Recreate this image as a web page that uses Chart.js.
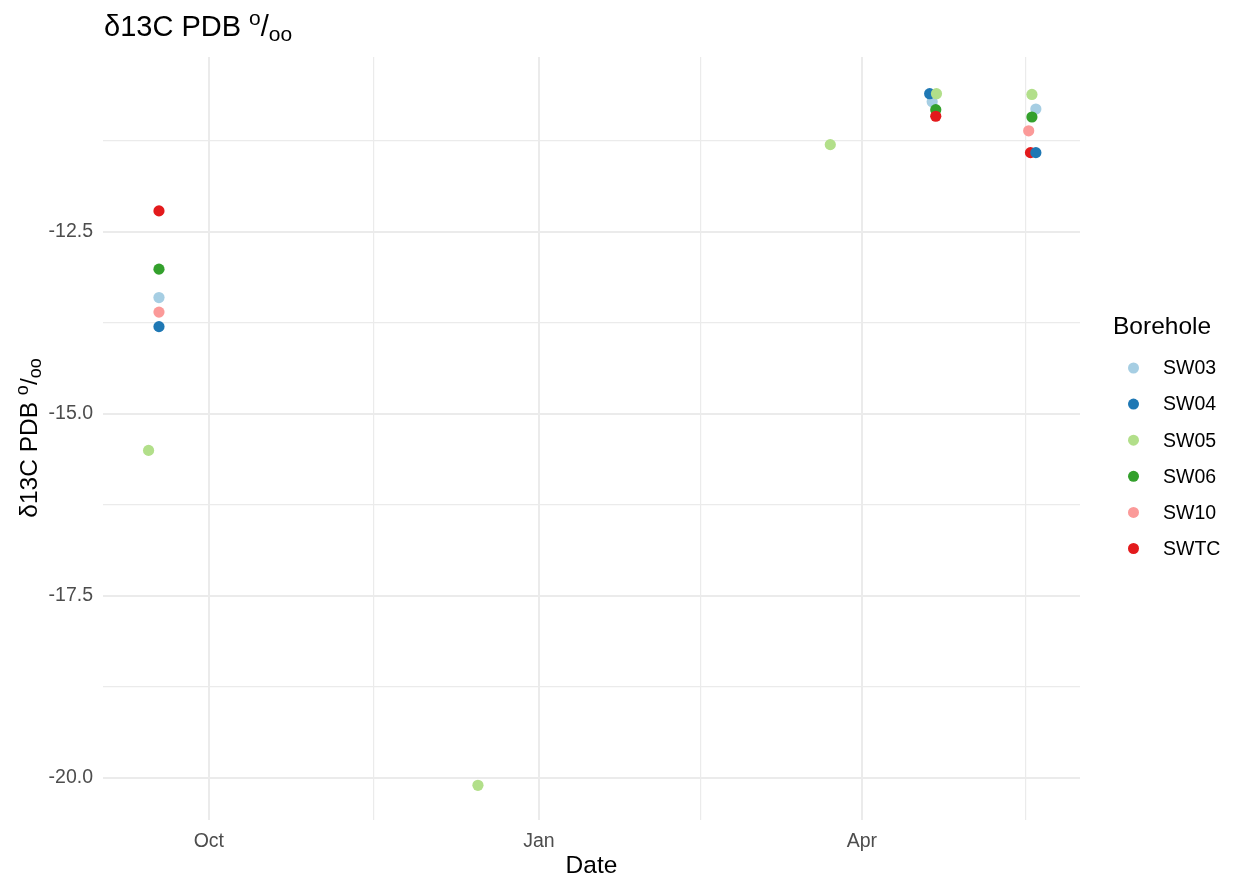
<!DOCTYPE html>
<html>
<head>
<meta charset="utf-8">
<title>δ13C PDB by borehole</title>
<script src="https://cdn.jsdelivr.net/npm/chart.js@4.4.1/dist/chart.umd.min.js"></script>
<style>
  html, body { margin: 0; padding: 0; background: #fff; }
  #wrap { width: 1236px; height: 881px; }
</style>
</head>
<body>
<div id="wrap"><canvas id="isoChart" width="1236" height="881"></canvas></div>
<script>
// boreholes in legend order, Brewer "Paired" colours
const BOREHOLES = ["SW03", "SW04", "SW05", "SW06", "SW10", "SWTC"];
const COLOURS = ["#A6CEE3", "#1F78B4", "#B2DF8A", "#33A02C", "#FB9A99", "#E31A1C"];
// which one ends up on top when points overlap (lower = on top)
const DRAW_ORDER = [6, 2, 1, 4, 5, 3];

// sample dates = days since 1 Oct, values = d13C permil
const SW03_DAYS = [-13.9, 201.6, 230.5];
const SW03_D13C = [-13.40, -10.71, -10.81];
const SW04_DAYS = [-13.9, 200.9, 230.5];
const SW04_D13C = [-13.80, -10.60, -11.41];
const SW05_DAYS = [-16.8, 75.0, 173.2, 202.8, 229.4];
const SW05_D13C = [-15.50, -20.10, -11.30, -10.60, -10.61];
const SW06_DAYS = [-13.9, 202.6, 229.4];
const SW06_D13C = [-13.01, -10.82, -10.92];
const SW10_DAYS = [-13.9, 228.5];
const SW10_D13C = [-13.60, -11.11];
const SWTC_DAYS = [-13.9, 202.6, 229.0];
const SWTC_D13C = [-12.21, -10.91, -11.41];

const SERIES_DAYS = [SW03_DAYS, SW04_DAYS, SW05_DAYS, SW06_DAYS, SW10_DAYS, SWTC_DAYS];
const SERIES_D13C = [SW03_D13C, SW04_D13C, SW05_D13C, SW06_D13C, SW10_D13C, SWTC_D13C];

// axes: major breaks get a label, minor ones get an empty string
const X_TICK_DAYS = [0, 46, 92, 137, 182, 227.5];
const X_TICK_LABELS = ["Oct", "", "Jan", "", "Apr", ""];
const Y_TICKS = [-20, -18.75, -17.5, -16.25, -15, -13.75, -12.5, -11.25];
const Y_TICK_LABELS = ["-20.0", "", "-17.5", "", "-15.0", "", "-12.5", ""];

const FONT = "'Liberation Sans', Arial, Helvetica, sans-serif";

function richWidth(ctx, parts) {
    let w = 0;
    parts.forEach(p => {
        ctx.font = p.size + "px " + FONT;
        w += ctx.measureText(p.text).width;
    });
    return w;
}

function drawRich(ctx, parts, x, y) {
    let cx = x;
    parts.forEach(p => {
        ctx.font = p.size + "px " + FONT;
        ctx.fillText(p.text, cx, y + p.dy);
        cx += ctx.measureText(p.text).width;
    });
}

function labelParts(size) {
    const small = Math.round(size * 0.72);
    return [
        { text: "δ13C PDB ", size: size, dy: 0 },
        { text: "o", size: small, dy: -size * 0.38 },
        { text: "/", size: size, dy: 0 },
        { text: "oo", size: small, dy: size * 0.17 }
    ];
}

// title, y axis title (both with super/subscripts) and the legend
const decorations = {
    id: "decorations",
    afterDraw(chart) {
        const ctx = chart.ctx;
        ctx.save();
        ctx.fillStyle = "#000";
        ctx.textAlign = "left";
        ctx.textBaseline = "alphabetic";

        drawRich(ctx, labelParts(29), 104, 36);

        const yParts = labelParts(24.5);
        const w = richWidth(ctx, yParts);
        ctx.save();
        ctx.translate(37, 438);
        ctx.rotate(-Math.PI / 2);
        drawRich(ctx, yParts, -w / 2, 0);
        ctx.restore();

        ctx.font = "24.5px " + FONT;
        ctx.fillText("Borehole", 1113, 334);
        ctx.font = "19.5px " + FONT;
        ctx.textBaseline = "middle";
        BOREHOLES.forEach((name, i) => {
            const y = 368 + i * 36.1;
            ctx.beginPath();
            ctx.arc(1133.5, y, 5.5, 0, Math.PI * 2);
            ctx.fillStyle = COLOURS[i];
            ctx.fill();
            ctx.fillStyle = "#000";
            ctx.fillText(name, 1163, y + 1);
        });
        ctx.restore();
    }
};

const datasets = BOREHOLES.map((name, i) => ({
    label: name,
    data: SERIES_DAYS[i].map((d, j) => ({ x: d, y: SERIES_D13C[i][j] })),
    backgroundColor: COLOURS[i],
    borderColor: COLOURS[i],
    borderWidth: 0,
    pointRadius: 5.6,
    pointHoverRadius: 5.6,
    order: DRAW_ORDER[i]
}));

new Chart(document.getElementById("isoChart"), {
    type: "scatter",
    data: { datasets: datasets },
    options: {
        responsive: false,
        animation: false,
        layout: { autoPadding: false, padding: { left: 0, top: 57, right: 156, bottom: 0 } },
        plugins: {
            legend: { display: false },
            tooltip: { enabled: false }
        },
        scales: {
            x: {
                type: "linear",
                min: -29.5,
                max: 242.8,
                afterBuildTicks: scale => { scale.ticks = X_TICK_DAYS.map(v => ({ value: v })); },
                afterFit: scale => { scale.height = 61; },
                border: { display: false },
                grid: {
                    color: "#EBEBEB",
                    lineWidth: c => (X_TICK_LABELS[c.index] ? 2 : 1.2),
                    drawTicks: false
                },
                ticks: {
                    autoSkip: false,
                    maxRotation: 0,
                    padding: 10,
                    color: "#4D4D4D",
                    font: { family: FONT, size: 19.5 },
                    callback: (v, i) => X_TICK_LABELS[i]
                },
                title: {
                    display: true,
                    text: "Date",
                    color: "#000",
                    font: { family: FONT, size: 24.5 },
                    padding: { top: 0, bottom: 0 }
                }
            },
            y: {
                type: "linear",
                min: -20.577,
                max: -10.096,
                afterBuildTicks: scale => { scale.ticks = Y_TICKS.map(v => ({ value: v })); },
                afterFit: scale => { scale.width = 103; },
                border: { display: false },
                grid: {
                    color: "#EBEBEB",
                    lineWidth: c => (Y_TICK_LABELS[c.index] ? 2 : 1.2),
                    drawTicks: false
                },
                ticks: {
                    autoSkip: false,
                    padding: 10,
                    color: "#4D4D4D",
                    font: { family: FONT, size: 19.5 },
                    callback: (v, i) => Y_TICK_LABELS[i]
                }
            }
        }
    },
    plugins: [decorations]
});
</script>
</body>
</html>
